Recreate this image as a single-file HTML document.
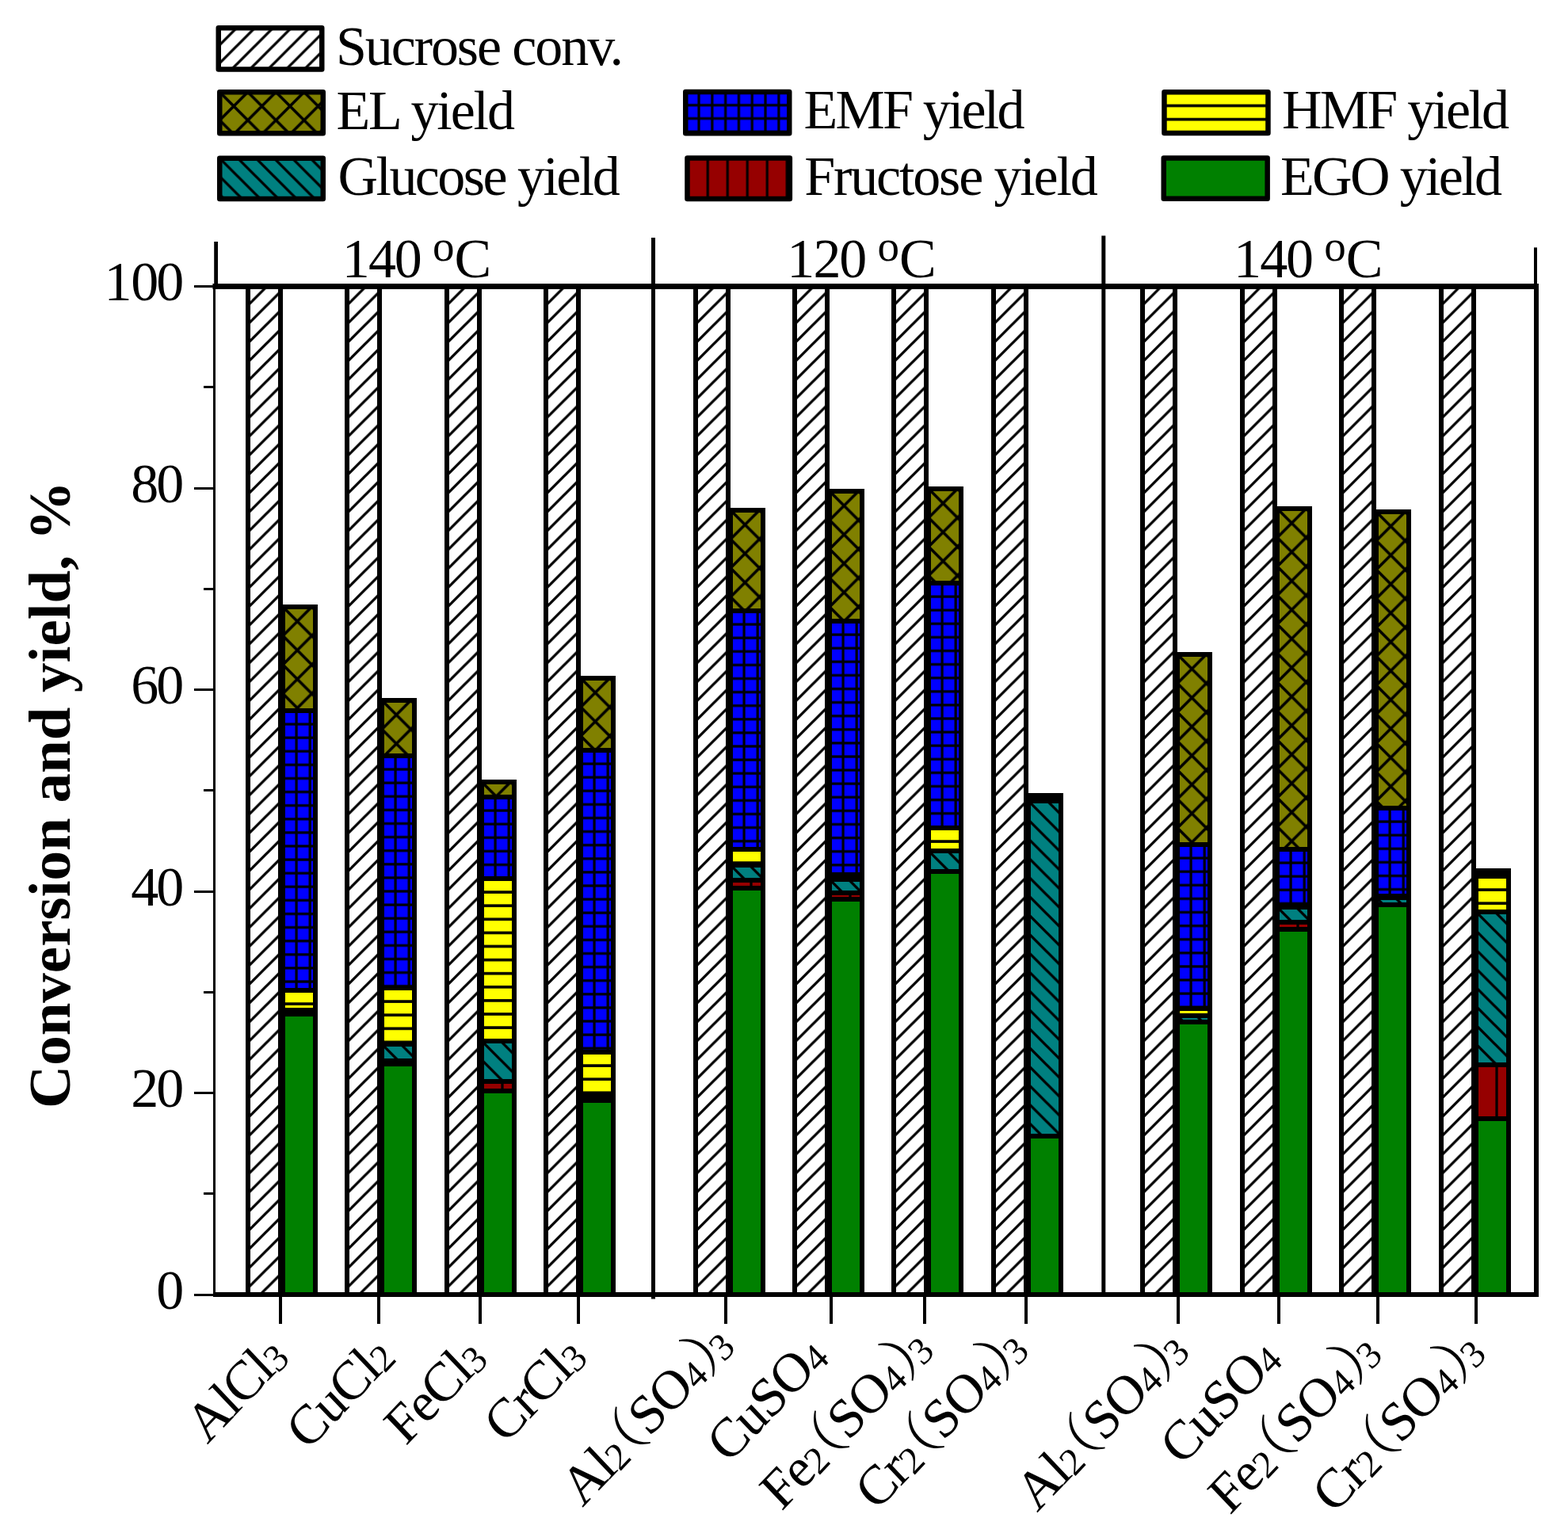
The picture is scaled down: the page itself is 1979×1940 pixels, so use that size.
<!DOCTYPE html>
<html><head><meta charset="utf-8"><title>Conversion and yield</title><style>html,body{margin:0;padding:0;background:#fff;width:1979px;height:1940px;overflow:hidden}svg{display:block}</style></head><body>
<svg width="1979" height="1940" viewBox="0 0 1979 1940"><rect width="1979" height="1940" fill="#fff"/><defs><pattern id="p1" patternUnits="userSpaceOnUse" x="275.75" y="35.25" width="22.95" height="22.95"><rect width="22.95" height="22.95" fill="#ffffff"/><path d="M-2,24.95 L24.95,-2 M-2,2 L2,-2 M20.95,24.95 L24.95,20.95" stroke="#000" stroke-width="3.3" fill="none"/></pattern><pattern id="p2" patternUnits="userSpaceOnUse" x="277.25" y="116.25" width="35.5" height="35.5"><rect width="35.5" height="35.5" fill="#808000"/><path d="M-2,-2 L37.5,37.5 M-2,37.5 L37.5,-2" stroke="#000" stroke-width="3.6" fill="none"/></pattern><pattern id="p3" patternUnits="userSpaceOnUse" x="277.25" y="199.75" width="22.9" height="22.9"><rect width="22.9" height="22.9" fill="#008080"/><path d="M-2,-2 L24.9,24.9 M20.9,-2 L24.9,2 M-2,20.9 L2,24.9" stroke="#000" stroke-width="3.3" fill="none"/></pattern><pattern id="p4" patternUnits="userSpaceOnUse" x="865.25" y="115.95" width="16.8" height="16.8"><rect width="16.8" height="16.8" fill="#0000ff"/><rect x="0" y="0" width="1.6" height="16.8" fill="#000"/><rect x="15.2" y="0" width="1.6" height="16.8" fill="#000"/><rect x="0" y="0" width="16.8" height="1.6" fill="#000"/><rect x="0" y="15.2" width="16.8" height="1.6" fill="#000"/></pattern><pattern id="p5" patternUnits="userSpaceOnUse" x="868.25" y="199.55" width="25" height="25"><rect width="25" height="25" fill="#960000"/><rect x="0" y="0" width="1.6" height="25" fill="#000"/><rect x="23.4" y="0" width="1.6" height="25" fill="#000"/></pattern><pattern id="p6" patternUnits="userSpaceOnUse" x="1469.45" y="116.25" width="17.2" height="17.2"><rect width="17.2" height="17.2" fill="#ffff00"/><rect x="0" y="0" width="17.2" height="1.8" fill="#000"/><rect x="0" y="15.4" width="17.2" height="1.8" fill="#000"/></pattern><pattern id="p7" patternUnits="userSpaceOnUse" x="313" y="361.5" width="23.85" height="23.85"><rect width="23.85" height="23.85" fill="#ffffff"/><path d="M-2,25.85 L25.85,-2 M-2,2 L2,-2 M21.85,25.85 L25.85,21.85" stroke="#000" stroke-width="3.3" fill="none"/></pattern><pattern id="p8" patternUnits="userSpaceOnUse" x="357.8" y="1278" width="25.2" height="25.2"><rect width="25.2" height="25.2" fill="#960000"/><rect x="0" y="0" width="1.6" height="25.2" fill="#000"/><rect x="23.6" y="0" width="1.6" height="25.2" fill="#000"/></pattern><pattern id="p9" patternUnits="userSpaceOnUse" x="357" y="1275" width="23.85" height="23.85"><rect width="23.85" height="23.85" fill="#008080"/><path d="M-2,-2 L25.85,25.85 M21.85,-2 L25.85,2 M-2,21.85 L2,25.85" stroke="#000" stroke-width="3.3" fill="none"/></pattern><pattern id="p10" patternUnits="userSpaceOnUse" x="357" y="1250" width="17.1" height="17.1"><rect width="17.1" height="17.1" fill="#ffff00"/><rect x="0" y="0" width="17.1" height="1.8" fill="#000"/><rect x="0" y="15.3" width="17.1" height="1.8" fill="#000"/></pattern><pattern id="p11" patternUnits="userSpaceOnUse" x="357" y="897" width="17.1" height="17.1"><rect width="17.1" height="17.1" fill="#0000ff"/><rect x="0" y="0" width="1.6" height="17.1" fill="#000"/><rect x="15.5" y="0" width="1.6" height="17.1" fill="#000"/><rect x="0" y="0" width="17.1" height="1.6" fill="#000"/><rect x="0" y="15.5" width="17.1" height="1.6" fill="#000"/></pattern><pattern id="p12" patternUnits="userSpaceOnUse" x="357" y="766" width="36.5" height="36.5"><rect width="36.5" height="36.5" fill="#808000"/><path d="M-2,-2 L38.5,38.5 M-2,38.5 L38.5,-2" stroke="#000" stroke-width="3.6" fill="none"/></pattern><pattern id="p13" patternUnits="userSpaceOnUse" x="438" y="361.5" width="23.85" height="23.85"><rect width="23.85" height="23.85" fill="#ffffff"/><path d="M-2,25.85 L25.85,-2 M-2,2 L2,-2 M21.85,25.85 L25.85,21.85" stroke="#000" stroke-width="3.3" fill="none"/></pattern><pattern id="p14" patternUnits="userSpaceOnUse" x="482.8" y="1339" width="25.2" height="25.2"><rect width="25.2" height="25.2" fill="#960000"/><rect x="0" y="0" width="1.6" height="25.2" fill="#000"/><rect x="23.6" y="0" width="1.6" height="25.2" fill="#000"/></pattern><pattern id="p15" patternUnits="userSpaceOnUse" x="482" y="1318" width="23.85" height="23.85"><rect width="23.85" height="23.85" fill="#008080"/><path d="M-2,-2 L25.85,25.85 M21.85,-2 L25.85,2 M-2,21.85 L2,25.85" stroke="#000" stroke-width="3.3" fill="none"/></pattern><pattern id="p16" patternUnits="userSpaceOnUse" x="482" y="1247" width="17.1" height="17.1"><rect width="17.1" height="17.1" fill="#ffff00"/><rect x="0" y="0" width="17.1" height="1.8" fill="#000"/><rect x="0" y="15.3" width="17.1" height="1.8" fill="#000"/></pattern><pattern id="p17" patternUnits="userSpaceOnUse" x="482" y="954" width="17.1" height="17.1"><rect width="17.1" height="17.1" fill="#0000ff"/><rect x="0" y="0" width="1.6" height="17.1" fill="#000"/><rect x="15.5" y="0" width="1.6" height="17.1" fill="#000"/><rect x="0" y="0" width="17.1" height="1.6" fill="#000"/><rect x="0" y="15.5" width="17.1" height="1.6" fill="#000"/></pattern><pattern id="p18" patternUnits="userSpaceOnUse" x="482" y="884" width="36.5" height="36.5"><rect width="36.5" height="36.5" fill="#808000"/><path d="M-2,-2 L38.5,38.5 M-2,38.5 L38.5,-2" stroke="#000" stroke-width="3.6" fill="none"/></pattern><pattern id="p19" patternUnits="userSpaceOnUse" x="564" y="361.5" width="23.85" height="23.85"><rect width="23.85" height="23.85" fill="#ffffff"/><path d="M-2,25.85 L25.85,-2 M-2,2 L2,-2 M21.85,25.85 L25.85,21.85" stroke="#000" stroke-width="3.3" fill="none"/></pattern><pattern id="p20" patternUnits="userSpaceOnUse" x="608.8" y="1365" width="25.2" height="25.2"><rect width="25.2" height="25.2" fill="#960000"/><rect x="0" y="0" width="1.6" height="25.2" fill="#000"/><rect x="23.6" y="0" width="1.6" height="25.2" fill="#000"/></pattern><pattern id="p21" patternUnits="userSpaceOnUse" x="608" y="1314" width="23.85" height="23.85"><rect width="23.85" height="23.85" fill="#008080"/><path d="M-2,-2 L25.85,25.85 M21.85,-2 L25.85,2 M-2,21.85 L2,25.85" stroke="#000" stroke-width="3.3" fill="none"/></pattern><pattern id="p22" patternUnits="userSpaceOnUse" x="608" y="1109" width="17.1" height="17.1"><rect width="17.1" height="17.1" fill="#ffff00"/><rect x="0" y="0" width="17.1" height="1.8" fill="#000"/><rect x="0" y="15.3" width="17.1" height="1.8" fill="#000"/></pattern><pattern id="p23" patternUnits="userSpaceOnUse" x="608" y="1006" width="17.1" height="17.1"><rect width="17.1" height="17.1" fill="#0000ff"/><rect x="0" y="0" width="1.6" height="17.1" fill="#000"/><rect x="15.5" y="0" width="1.6" height="17.1" fill="#000"/><rect x="0" y="0" width="17.1" height="1.6" fill="#000"/><rect x="0" y="15.5" width="17.1" height="1.6" fill="#000"/></pattern><pattern id="p24" patternUnits="userSpaceOnUse" x="608" y="987" width="36.5" height="36.5"><rect width="36.5" height="36.5" fill="#808000"/><path d="M-2,-2 L38.5,38.5 M-2,38.5 L38.5,-2" stroke="#000" stroke-width="3.6" fill="none"/></pattern><pattern id="p25" patternUnits="userSpaceOnUse" x="689" y="361.5" width="23.85" height="23.85"><rect width="23.85" height="23.85" fill="#ffffff"/><path d="M-2,25.85 L25.85,-2 M-2,2 L2,-2 M21.85,25.85 L25.85,21.85" stroke="#000" stroke-width="3.3" fill="none"/></pattern><pattern id="p26" patternUnits="userSpaceOnUse" x="733.8" y="1387" width="25.2" height="25.2"><rect width="25.2" height="25.2" fill="#960000"/><rect x="0" y="0" width="1.6" height="25.2" fill="#000"/><rect x="23.6" y="0" width="1.6" height="25.2" fill="#000"/></pattern><pattern id="p27" patternUnits="userSpaceOnUse" x="733" y="1383" width="23.85" height="23.85"><rect width="23.85" height="23.85" fill="#008080"/><path d="M-2,-2 L25.85,25.85 M21.85,-2 L25.85,2 M-2,21.85 L2,25.85" stroke="#000" stroke-width="3.3" fill="none"/></pattern><pattern id="p28" patternUnits="userSpaceOnUse" x="733" y="1328" width="17.1" height="17.1"><rect width="17.1" height="17.1" fill="#ffff00"/><rect x="0" y="0" width="17.1" height="1.8" fill="#000"/><rect x="0" y="15.3" width="17.1" height="1.8" fill="#000"/></pattern><pattern id="p29" patternUnits="userSpaceOnUse" x="733" y="947" width="17.1" height="17.1"><rect width="17.1" height="17.1" fill="#0000ff"/><rect x="0" y="0" width="1.6" height="17.1" fill="#000"/><rect x="15.5" y="0" width="1.6" height="17.1" fill="#000"/><rect x="0" y="0" width="17.1" height="1.6" fill="#000"/><rect x="0" y="15.5" width="17.1" height="1.6" fill="#000"/></pattern><pattern id="p30" patternUnits="userSpaceOnUse" x="733" y="856" width="36.5" height="36.5"><rect width="36.5" height="36.5" fill="#808000"/><path d="M-2,-2 L38.5,38.5 M-2,38.5 L38.5,-2" stroke="#000" stroke-width="3.6" fill="none"/></pattern><pattern id="p31" patternUnits="userSpaceOnUse" x="878" y="361.5" width="23.85" height="23.85"><rect width="23.85" height="23.85" fill="#ffffff"/><path d="M-2,25.85 L25.85,-2 M-2,2 L2,-2 M21.85,25.85 L25.85,21.85" stroke="#000" stroke-width="3.3" fill="none"/></pattern><pattern id="p32" patternUnits="userSpaceOnUse" x="922.8" y="1111" width="25.2" height="25.2"><rect width="25.2" height="25.2" fill="#960000"/><rect x="0" y="0" width="1.6" height="25.2" fill="#000"/><rect x="23.6" y="0" width="1.6" height="25.2" fill="#000"/></pattern><pattern id="p33" patternUnits="userSpaceOnUse" x="922" y="1092" width="23.85" height="23.85"><rect width="23.85" height="23.85" fill="#008080"/><path d="M-2,-2 L25.85,25.85 M21.85,-2 L25.85,2 M-2,21.85 L2,25.85" stroke="#000" stroke-width="3.3" fill="none"/></pattern><pattern id="p34" patternUnits="userSpaceOnUse" x="922" y="1072" width="17.1" height="17.1"><rect width="17.1" height="17.1" fill="#ffff00"/><rect x="0" y="0" width="17.1" height="1.8" fill="#000"/><rect x="0" y="15.3" width="17.1" height="1.8" fill="#000"/></pattern><pattern id="p35" patternUnits="userSpaceOnUse" x="922" y="771" width="17.1" height="17.1"><rect width="17.1" height="17.1" fill="#0000ff"/><rect x="0" y="0" width="1.6" height="17.1" fill="#000"/><rect x="15.5" y="0" width="1.6" height="17.1" fill="#000"/><rect x="0" y="0" width="17.1" height="1.6" fill="#000"/><rect x="0" y="15.5" width="17.1" height="1.6" fill="#000"/></pattern><pattern id="p36" patternUnits="userSpaceOnUse" x="922" y="644" width="36.5" height="36.5"><rect width="36.5" height="36.5" fill="#808000"/><path d="M-2,-2 L38.5,38.5 M-2,38.5 L38.5,-2" stroke="#000" stroke-width="3.6" fill="none"/></pattern><pattern id="p37" patternUnits="userSpaceOnUse" x="1003" y="361.5" width="23.85" height="23.85"><rect width="23.85" height="23.85" fill="#ffffff"/><path d="M-2,25.85 L25.85,-2 M-2,2 L2,-2 M21.85,25.85 L25.85,21.85" stroke="#000" stroke-width="3.3" fill="none"/></pattern><pattern id="p38" patternUnits="userSpaceOnUse" x="1047.8" y="1127" width="25.2" height="25.2"><rect width="25.2" height="25.2" fill="#960000"/><rect x="0" y="0" width="1.6" height="25.2" fill="#000"/><rect x="23.6" y="0" width="1.6" height="25.2" fill="#000"/></pattern><pattern id="p39" patternUnits="userSpaceOnUse" x="1047" y="1110" width="23.85" height="23.85"><rect width="23.85" height="23.85" fill="#008080"/><path d="M-2,-2 L25.85,25.85 M21.85,-2 L25.85,2 M-2,21.85 L2,25.85" stroke="#000" stroke-width="3.3" fill="none"/></pattern><pattern id="p40" patternUnits="userSpaceOnUse" x="1047" y="1104" width="17.1" height="17.1"><rect width="17.1" height="17.1" fill="#ffff00"/><rect x="0" y="0" width="17.1" height="1.8" fill="#000"/><rect x="0" y="15.3" width="17.1" height="1.8" fill="#000"/></pattern><pattern id="p41" patternUnits="userSpaceOnUse" x="1047" y="784" width="17.1" height="17.1"><rect width="17.1" height="17.1" fill="#0000ff"/><rect x="0" y="0" width="1.6" height="17.1" fill="#000"/><rect x="15.5" y="0" width="1.6" height="17.1" fill="#000"/><rect x="0" y="0" width="17.1" height="1.6" fill="#000"/><rect x="0" y="15.5" width="17.1" height="1.6" fill="#000"/></pattern><pattern id="p42" patternUnits="userSpaceOnUse" x="1047" y="620" width="36.5" height="36.5"><rect width="36.5" height="36.5" fill="#808000"/><path d="M-2,-2 L38.5,38.5 M-2,38.5 L38.5,-2" stroke="#000" stroke-width="3.6" fill="none"/></pattern><pattern id="p43" patternUnits="userSpaceOnUse" x="1128" y="361.5" width="23.85" height="23.85"><rect width="23.85" height="23.85" fill="#ffffff"/><path d="M-2,25.85 L25.85,-2 M-2,2 L2,-2 M21.85,25.85 L25.85,21.85" stroke="#000" stroke-width="3.3" fill="none"/></pattern><pattern id="p44" patternUnits="userSpaceOnUse" x="1172" y="1074" width="23.85" height="23.85"><rect width="23.85" height="23.85" fill="#008080"/><path d="M-2,-2 L25.85,25.85 M21.85,-2 L25.85,2 M-2,21.85 L2,25.85" stroke="#000" stroke-width="3.3" fill="none"/></pattern><pattern id="p45" patternUnits="userSpaceOnUse" x="1172" y="1045" width="17.1" height="17.1"><rect width="17.1" height="17.1" fill="#ffff00"/><rect x="0" y="0" width="17.1" height="1.8" fill="#000"/><rect x="0" y="15.3" width="17.1" height="1.8" fill="#000"/></pattern><pattern id="p46" patternUnits="userSpaceOnUse" x="1172" y="736" width="17.1" height="17.1"><rect width="17.1" height="17.1" fill="#0000ff"/><rect x="0" y="0" width="1.6" height="17.1" fill="#000"/><rect x="15.5" y="0" width="1.6" height="17.1" fill="#000"/><rect x="0" y="0" width="17.1" height="1.6" fill="#000"/><rect x="0" y="15.5" width="17.1" height="1.6" fill="#000"/></pattern><pattern id="p47" patternUnits="userSpaceOnUse" x="1172" y="617" width="36.5" height="36.5"><rect width="36.5" height="36.5" fill="#808000"/><path d="M-2,-2 L38.5,38.5 M-2,38.5 L38.5,-2" stroke="#000" stroke-width="3.6" fill="none"/></pattern><pattern id="p48" patternUnits="userSpaceOnUse" x="1254" y="361.5" width="23.85" height="23.85"><rect width="23.85" height="23.85" fill="#ffffff"/><path d="M-2,25.85 L25.85,-2 M-2,2 L2,-2 M21.85,25.85 L25.85,21.85" stroke="#000" stroke-width="3.3" fill="none"/></pattern><pattern id="p49" patternUnits="userSpaceOnUse" x="1298" y="1011" width="23.85" height="23.85"><rect width="23.85" height="23.85" fill="#008080"/><path d="M-2,-2 L25.85,25.85 M21.85,-2 L25.85,2 M-2,21.85 L2,25.85" stroke="#000" stroke-width="3.3" fill="none"/></pattern><pattern id="p50" patternUnits="userSpaceOnUse" x="1298" y="1008" width="17.1" height="17.1"><rect width="17.1" height="17.1" fill="#ffff00"/><rect x="0" y="0" width="17.1" height="1.8" fill="#000"/><rect x="0" y="15.3" width="17.1" height="1.8" fill="#000"/></pattern><pattern id="p51" patternUnits="userSpaceOnUse" x="1298" y="1006" width="17.1" height="17.1"><rect width="17.1" height="17.1" fill="#0000ff"/><rect x="0" y="0" width="1.6" height="17.1" fill="#000"/><rect x="15.5" y="0" width="1.6" height="17.1" fill="#000"/><rect x="0" y="0" width="17.1" height="1.6" fill="#000"/><rect x="0" y="15.5" width="17.1" height="1.6" fill="#000"/></pattern><pattern id="p52" patternUnits="userSpaceOnUse" x="1298" y="1004" width="36.5" height="36.5"><rect width="36.5" height="36.5" fill="#808000"/><path d="M-2,-2 L38.5,38.5 M-2,38.5 L38.5,-2" stroke="#000" stroke-width="3.6" fill="none"/></pattern><pattern id="p53" patternUnits="userSpaceOnUse" x="1442" y="361.5" width="23.85" height="23.85"><rect width="23.85" height="23.85" fill="#ffffff"/><path d="M-2,25.85 L25.85,-2 M-2,2 L2,-2 M21.85,25.85 L25.85,21.85" stroke="#000" stroke-width="3.3" fill="none"/></pattern><pattern id="p54" patternUnits="userSpaceOnUse" x="1486" y="1282" width="23.85" height="23.85"><rect width="23.85" height="23.85" fill="#008080"/><path d="M-2,-2 L25.85,25.85 M21.85,-2 L25.85,2 M-2,21.85 L2,25.85" stroke="#000" stroke-width="3.3" fill="none"/></pattern><pattern id="p55" patternUnits="userSpaceOnUse" x="1486" y="1273" width="17.1" height="17.1"><rect width="17.1" height="17.1" fill="#ffff00"/><rect x="0" y="0" width="17.1" height="1.8" fill="#000"/><rect x="0" y="15.3" width="17.1" height="1.8" fill="#000"/></pattern><pattern id="p56" patternUnits="userSpaceOnUse" x="1486" y="1066" width="17.1" height="17.1"><rect width="17.1" height="17.1" fill="#0000ff"/><rect x="0" y="0" width="1.6" height="17.1" fill="#000"/><rect x="15.5" y="0" width="1.6" height="17.1" fill="#000"/><rect x="0" y="0" width="17.1" height="1.6" fill="#000"/><rect x="0" y="15.5" width="17.1" height="1.6" fill="#000"/></pattern><pattern id="p57" patternUnits="userSpaceOnUse" x="1486" y="826" width="36.5" height="36.5"><rect width="36.5" height="36.5" fill="#808000"/><path d="M-2,-2 L38.5,38.5 M-2,38.5 L38.5,-2" stroke="#000" stroke-width="3.6" fill="none"/></pattern><pattern id="p58" patternUnits="userSpaceOnUse" x="1568" y="361.5" width="23.85" height="23.85"><rect width="23.85" height="23.85" fill="#ffffff"/><path d="M-2,25.85 L25.85,-2 M-2,2 L2,-2 M21.85,25.85 L25.85,21.85" stroke="#000" stroke-width="3.3" fill="none"/></pattern><pattern id="p59" patternUnits="userSpaceOnUse" x="1612.8" y="1164" width="25.2" height="25.2"><rect width="25.2" height="25.2" fill="#960000"/><rect x="0" y="0" width="1.6" height="25.2" fill="#000"/><rect x="23.6" y="0" width="1.6" height="25.2" fill="#000"/></pattern><pattern id="p60" patternUnits="userSpaceOnUse" x="1612" y="1145" width="23.85" height="23.85"><rect width="23.85" height="23.85" fill="#008080"/><path d="M-2,-2 L25.85,25.85 M21.85,-2 L25.85,2 M-2,21.85 L2,25.85" stroke="#000" stroke-width="3.3" fill="none"/></pattern><pattern id="p61" patternUnits="userSpaceOnUse" x="1612" y="1143" width="17.1" height="17.1"><rect width="17.1" height="17.1" fill="#ffff00"/><rect x="0" y="0" width="17.1" height="1.8" fill="#000"/><rect x="0" y="15.3" width="17.1" height="1.8" fill="#000"/></pattern><pattern id="p62" patternUnits="userSpaceOnUse" x="1612" y="1072" width="17.1" height="17.1"><rect width="17.1" height="17.1" fill="#0000ff"/><rect x="0" y="0" width="1.6" height="17.1" fill="#000"/><rect x="15.5" y="0" width="1.6" height="17.1" fill="#000"/><rect x="0" y="0" width="17.1" height="1.6" fill="#000"/><rect x="0" y="15.5" width="17.1" height="1.6" fill="#000"/></pattern><pattern id="p63" patternUnits="userSpaceOnUse" x="1612" y="642" width="36.5" height="36.5"><rect width="36.5" height="36.5" fill="#808000"/><path d="M-2,-2 L38.5,38.5 M-2,38.5 L38.5,-2" stroke="#000" stroke-width="3.6" fill="none"/></pattern><pattern id="p64" patternUnits="userSpaceOnUse" x="1693" y="361.5" width="23.85" height="23.85"><rect width="23.85" height="23.85" fill="#ffffff"/><path d="M-2,25.85 L25.85,-2 M-2,2 L2,-2 M21.85,25.85 L25.85,21.85" stroke="#000" stroke-width="3.3" fill="none"/></pattern><pattern id="p65" patternUnits="userSpaceOnUse" x="1737" y="1133" width="23.85" height="23.85"><rect width="23.85" height="23.85" fill="#008080"/><path d="M-2,-2 L25.85,25.85 M21.85,-2 L25.85,2 M-2,21.85 L2,25.85" stroke="#000" stroke-width="3.3" fill="none"/></pattern><pattern id="p66" patternUnits="userSpaceOnUse" x="1737" y="1131" width="17.1" height="17.1"><rect width="17.1" height="17.1" fill="#ffff00"/><rect x="0" y="0" width="17.1" height="1.8" fill="#000"/><rect x="0" y="15.3" width="17.1" height="1.8" fill="#000"/></pattern><pattern id="p67" patternUnits="userSpaceOnUse" x="1737" y="1020" width="17.1" height="17.1"><rect width="17.1" height="17.1" fill="#0000ff"/><rect x="0" y="0" width="1.6" height="17.1" fill="#000"/><rect x="15.5" y="0" width="1.6" height="17.1" fill="#000"/><rect x="0" y="0" width="17.1" height="1.6" fill="#000"/><rect x="0" y="15.5" width="17.1" height="1.6" fill="#000"/></pattern><pattern id="p68" patternUnits="userSpaceOnUse" x="1737" y="646" width="36.5" height="36.5"><rect width="36.5" height="36.5" fill="#808000"/><path d="M-2,-2 L38.5,38.5 M-2,38.5 L38.5,-2" stroke="#000" stroke-width="3.6" fill="none"/></pattern><pattern id="p69" patternUnits="userSpaceOnUse" x="1819" y="361.5" width="23.85" height="23.85"><rect width="23.85" height="23.85" fill="#ffffff"/><path d="M-2,25.85 L25.85,-2 M-2,2 L2,-2 M21.85,25.85 L25.85,21.85" stroke="#000" stroke-width="3.3" fill="none"/></pattern><pattern id="p70" patternUnits="userSpaceOnUse" x="1863.8" y="1344" width="25.2" height="25.2"><rect width="25.2" height="25.2" fill="#960000"/><rect x="0" y="0" width="1.6" height="25.2" fill="#000"/><rect x="23.6" y="0" width="1.6" height="25.2" fill="#000"/></pattern><pattern id="p71" patternUnits="userSpaceOnUse" x="1863" y="1151" width="23.85" height="23.85"><rect width="23.85" height="23.85" fill="#008080"/><path d="M-2,-2 L25.85,25.85 M21.85,-2 L25.85,2 M-2,21.85 L2,25.85" stroke="#000" stroke-width="3.3" fill="none"/></pattern><pattern id="p72" patternUnits="userSpaceOnUse" x="1863" y="1106" width="17.1" height="17.1"><rect width="17.1" height="17.1" fill="#ffff00"/><rect x="0" y="0" width="17.1" height="1.8" fill="#000"/><rect x="0" y="15.3" width="17.1" height="1.8" fill="#000"/></pattern><pattern id="p73" patternUnits="userSpaceOnUse" x="1863" y="1102" width="17.1" height="17.1"><rect width="17.1" height="17.1" fill="#0000ff"/><rect x="0" y="0" width="1.6" height="17.1" fill="#000"/><rect x="15.5" y="0" width="1.6" height="17.1" fill="#000"/><rect x="0" y="0" width="17.1" height="1.6" fill="#000"/><rect x="0" y="15.5" width="17.1" height="1.6" fill="#000"/></pattern><pattern id="p74" patternUnits="userSpaceOnUse" x="1863" y="1099" width="36.5" height="36.5"><rect width="36.5" height="36.5" fill="#808000"/><path d="M-2,-2 L38.5,38.5 M-2,38.5 L38.5,-2" stroke="#000" stroke-width="3.6" fill="none"/></pattern></defs><rect x="275.75" y="35.25" width="130.5" height="52.2" fill="url(#p1)" stroke="#000" stroke-width="6.5" stroke-linejoin="round"/>
<rect x="277.25" y="116.25" width="130.5" height="52" fill="url(#p2)" stroke="#000" stroke-width="6.5" stroke-linejoin="round"/>
<rect x="277.25" y="199.75" width="130.5" height="51.3" fill="url(#p3)" stroke="#000" stroke-width="6.5" stroke-linejoin="round"/>
<rect x="865.25" y="115.95" width="131" height="52.2" fill="url(#p4)" stroke="#000" stroke-width="6.5" stroke-linejoin="round"/>
<rect x="867.45" y="199.55" width="129.4" height="51.5" fill="url(#p5)" stroke="#000" stroke-width="6.5" stroke-linejoin="round"/>
<rect x="1469.45" y="116.25" width="131" height="51.8" fill="url(#p6)" stroke="#000" stroke-width="6.5" stroke-linejoin="round"/>
<rect x="1468.75" y="199.55" width="130.9" height="51.2" fill="#008000" stroke="#000" stroke-width="6.5" stroke-linejoin="round"/>
<rect x="313" y="361.5" width="41" height="1272.5" fill="url(#p7)" stroke="#000" stroke-width="6"/>
<rect x="357" y="1280" width="41" height="354" fill="#008000" stroke="#000" stroke-width="6"/>
<rect x="357" y="1278" width="41" height="2" fill="url(#p8)" stroke="#000" stroke-width="6"/>
<rect x="357" y="1275" width="41" height="3" fill="url(#p9)" stroke="#000" stroke-width="6"/>
<rect x="357" y="1250" width="41" height="25" fill="url(#p10)" stroke="#000" stroke-width="6"/>
<rect x="357" y="897" width="41" height="353" fill="url(#p11)" stroke="#000" stroke-width="6"/>
<rect x="357" y="766" width="41" height="131" fill="url(#p12)" stroke="#000" stroke-width="6"/>
<rect x="438" y="361.5" width="41" height="1272.5" fill="url(#p13)" stroke="#000" stroke-width="6"/>
<rect x="482" y="1343" width="41" height="291" fill="#008000" stroke="#000" stroke-width="6"/>
<rect x="482" y="1339" width="41" height="4" fill="url(#p14)" stroke="#000" stroke-width="6"/>
<rect x="482" y="1318" width="41" height="21" fill="url(#p15)" stroke="#000" stroke-width="6"/>
<rect x="482" y="1247" width="41" height="71" fill="url(#p16)" stroke="#000" stroke-width="6"/>
<rect x="482" y="954" width="41" height="293" fill="url(#p17)" stroke="#000" stroke-width="6"/>
<rect x="482" y="884" width="41" height="70" fill="url(#p18)" stroke="#000" stroke-width="6"/>
<rect x="564" y="361.5" width="41" height="1272.5" fill="url(#p19)" stroke="#000" stroke-width="6"/>
<rect x="608" y="1377" width="41" height="257" fill="#008000" stroke="#000" stroke-width="6"/>
<rect x="608" y="1365" width="41" height="12" fill="url(#p20)" stroke="#000" stroke-width="6"/>
<rect x="608" y="1314" width="41" height="51" fill="url(#p21)" stroke="#000" stroke-width="6"/>
<rect x="608" y="1109" width="41" height="205" fill="url(#p22)" stroke="#000" stroke-width="6"/>
<rect x="608" y="1006" width="41" height="103" fill="url(#p23)" stroke="#000" stroke-width="6"/>
<rect x="608" y="987" width="41" height="19" fill="url(#p24)" stroke="#000" stroke-width="6"/>
<rect x="689" y="361.5" width="41" height="1272.5" fill="url(#p25)" stroke="#000" stroke-width="6"/>
<rect x="733" y="1389" width="41" height="245" fill="#008000" stroke="#000" stroke-width="6"/>
<rect x="733" y="1387" width="41" height="2" fill="url(#p26)" stroke="#000" stroke-width="6"/>
<rect x="733" y="1383" width="41" height="4" fill="url(#p27)" stroke="#000" stroke-width="6"/>
<rect x="733" y="1328" width="41" height="55" fill="url(#p28)" stroke="#000" stroke-width="6"/>
<rect x="733" y="947" width="41" height="381" fill="url(#p29)" stroke="#000" stroke-width="6"/>
<rect x="733" y="856" width="41" height="91" fill="url(#p30)" stroke="#000" stroke-width="6"/>
<rect x="878" y="361.5" width="41" height="1272.5" fill="url(#p31)" stroke="#000" stroke-width="6"/>
<rect x="922" y="1121" width="41" height="513" fill="#008000" stroke="#000" stroke-width="6"/>
<rect x="922" y="1111" width="41" height="10" fill="url(#p32)" stroke="#000" stroke-width="6"/>
<rect x="922" y="1092" width="41" height="19" fill="url(#p33)" stroke="#000" stroke-width="6"/>
<rect x="922" y="1072" width="41" height="20" fill="url(#p34)" stroke="#000" stroke-width="6"/>
<rect x="922" y="771" width="41" height="301" fill="url(#p35)" stroke="#000" stroke-width="6"/>
<rect x="922" y="644" width="41" height="127" fill="url(#p36)" stroke="#000" stroke-width="6"/>
<rect x="1003" y="361.5" width="41" height="1272.5" fill="url(#p37)" stroke="#000" stroke-width="6"/>
<rect x="1047" y="1135" width="41" height="499" fill="#008000" stroke="#000" stroke-width="6"/>
<rect x="1047" y="1127" width="41" height="8" fill="url(#p38)" stroke="#000" stroke-width="6"/>
<rect x="1047" y="1110" width="41" height="17" fill="url(#p39)" stroke="#000" stroke-width="6"/>
<rect x="1047" y="1104" width="41" height="6" fill="url(#p40)" stroke="#000" stroke-width="6"/>
<rect x="1047" y="784" width="41" height="320" fill="url(#p41)" stroke="#000" stroke-width="6"/>
<rect x="1047" y="620" width="41" height="164" fill="url(#p42)" stroke="#000" stroke-width="6"/>
<rect x="1128" y="361.5" width="41" height="1272.5" fill="url(#p43)" stroke="#000" stroke-width="6"/>
<rect x="1172" y="1100" width="41" height="534" fill="#008000" stroke="#000" stroke-width="6"/>
<rect x="1172" y="1074" width="41" height="26" fill="url(#p44)" stroke="#000" stroke-width="6"/>
<rect x="1172" y="1045" width="41" height="29" fill="url(#p45)" stroke="#000" stroke-width="6"/>
<rect x="1172" y="736" width="41" height="309" fill="url(#p46)" stroke="#000" stroke-width="6"/>
<rect x="1172" y="617" width="41" height="119" fill="url(#p47)" stroke="#000" stroke-width="6"/>
<rect x="1254" y="361.5" width="41" height="1272.5" fill="url(#p48)" stroke="#000" stroke-width="6"/>
<rect x="1298" y="1434" width="41" height="200" fill="#008000" stroke="#000" stroke-width="6"/>
<rect x="1298" y="1011" width="41" height="423" fill="url(#p49)" stroke="#000" stroke-width="6"/>
<rect x="1298" y="1008" width="41" height="3" fill="url(#p50)" stroke="#000" stroke-width="6"/>
<rect x="1298" y="1006" width="41" height="2" fill="url(#p51)" stroke="#000" stroke-width="6"/>
<rect x="1298" y="1004" width="41" height="2" fill="url(#p52)" stroke="#000" stroke-width="6"/>
<rect x="1442" y="361.5" width="41" height="1272.5" fill="url(#p53)" stroke="#000" stroke-width="6"/>
<rect x="1486" y="1290" width="41" height="344" fill="#008000" stroke="#000" stroke-width="6"/>
<rect x="1486" y="1282" width="41" height="8" fill="url(#p54)" stroke="#000" stroke-width="6"/>
<rect x="1486" y="1273" width="41" height="9" fill="url(#p55)" stroke="#000" stroke-width="6"/>
<rect x="1486" y="1066" width="41" height="207" fill="url(#p56)" stroke="#000" stroke-width="6"/>
<rect x="1486" y="826" width="41" height="240" fill="url(#p57)" stroke="#000" stroke-width="6"/>
<rect x="1568" y="361.5" width="41" height="1272.5" fill="url(#p58)" stroke="#000" stroke-width="6"/>
<rect x="1612" y="1173" width="41" height="461" fill="#008000" stroke="#000" stroke-width="6"/>
<rect x="1612" y="1164" width="41" height="9" fill="url(#p59)" stroke="#000" stroke-width="6"/>
<rect x="1612" y="1145" width="41" height="19" fill="url(#p60)" stroke="#000" stroke-width="6"/>
<rect x="1612" y="1143" width="41" height="2" fill="url(#p61)" stroke="#000" stroke-width="6"/>
<rect x="1612" y="1072" width="41" height="71" fill="url(#p62)" stroke="#000" stroke-width="6"/>
<rect x="1612" y="642" width="41" height="430" fill="url(#p63)" stroke="#000" stroke-width="6"/>
<rect x="1693" y="361.5" width="41" height="1272.5" fill="url(#p64)" stroke="#000" stroke-width="6"/>
<rect x="1737" y="1142" width="41" height="492" fill="#008000" stroke="#000" stroke-width="6"/>
<rect x="1737" y="1133" width="41" height="9" fill="url(#p65)" stroke="#000" stroke-width="6"/>
<rect x="1737" y="1131" width="41" height="2" fill="url(#p66)" stroke="#000" stroke-width="6"/>
<rect x="1737" y="1020" width="41" height="111" fill="url(#p67)" stroke="#000" stroke-width="6"/>
<rect x="1737" y="646" width="41" height="374" fill="url(#p68)" stroke="#000" stroke-width="6"/>
<rect x="1819" y="361.5" width="41" height="1272.5" fill="url(#p69)" stroke="#000" stroke-width="6"/>
<rect x="1863" y="1412" width="41" height="222" fill="#008000" stroke="#000" stroke-width="6"/>
<rect x="1863" y="1344" width="41" height="68" fill="url(#p70)" stroke="#000" stroke-width="6"/>
<rect x="1863" y="1151" width="41" height="193" fill="url(#p71)" stroke="#000" stroke-width="6"/>
<rect x="1863" y="1106" width="41" height="45" fill="url(#p72)" stroke="#000" stroke-width="6"/>
<rect x="1863" y="1102" width="41" height="4" fill="url(#p73)" stroke="#000" stroke-width="6"/>
<rect x="1863" y="1099" width="41" height="3" fill="url(#p74)" stroke="#000" stroke-width="6"/>
<line x1="268.4" y1="361.5" x2="1941" y2="361.5" stroke="#000" stroke-width="7" stroke-linecap="butt"/>
<line x1="269" y1="1634" x2="1942" y2="1634" stroke="#000" stroke-width="6" stroke-linecap="butt"/>
<line x1="270.5" y1="358" x2="270.5" y2="1637" stroke="#000" stroke-width="3" stroke-linecap="butt"/>
<line x1="1939" y1="358" x2="1939" y2="1637" stroke="#000" stroke-width="6" stroke-linecap="butt"/>
<line x1="272.6" y1="305" x2="272.6" y2="360" stroke="#000" stroke-width="4.8" stroke-linecap="butt"/>
<line x1="1938" y1="312.4" x2="1938" y2="360" stroke="#000" stroke-width="4" stroke-linecap="butt"/>
<line x1="824.5" y1="300" x2="824.5" y2="1639.5" stroke="#000" stroke-width="5" stroke-linecap="butt"/>
<line x1="1392.8" y1="297.5" x2="1392.8" y2="1636" stroke="#000" stroke-width="5" stroke-linecap="butt"/>
<line x1="245" y1="1634.5" x2="270" y2="1634.5" stroke="#000" stroke-width="3" stroke-linecap="butt"/>
<line x1="257" y1="1506.5" x2="270" y2="1506.5" stroke="#000" stroke-width="3" stroke-linecap="butt"/>
<line x1="245" y1="1379.5" x2="270" y2="1379.5" stroke="#000" stroke-width="3" stroke-linecap="butt"/>
<line x1="257" y1="1252.5" x2="270" y2="1252.5" stroke="#000" stroke-width="3" stroke-linecap="butt"/>
<line x1="245" y1="1125.5" x2="270" y2="1125.5" stroke="#000" stroke-width="3" stroke-linecap="butt"/>
<line x1="257" y1="997.5" x2="270" y2="997.5" stroke="#000" stroke-width="3" stroke-linecap="butt"/>
<line x1="245" y1="870.5" x2="270" y2="870.5" stroke="#000" stroke-width="3" stroke-linecap="butt"/>
<line x1="257" y1="743.5" x2="270" y2="743.5" stroke="#000" stroke-width="3" stroke-linecap="butt"/>
<line x1="245" y1="616.5" x2="270" y2="616.5" stroke="#000" stroke-width="3" stroke-linecap="butt"/>
<line x1="257" y1="488.5" x2="270" y2="488.5" stroke="#000" stroke-width="3" stroke-linecap="butt"/>
<line x1="245" y1="361.5" x2="270" y2="361.5" stroke="#000" stroke-width="3" stroke-linecap="butt"/>
<line x1="354" y1="1636" x2="354" y2="1671" stroke="#000" stroke-width="4" stroke-linecap="butt"/>
<line x1="478" y1="1636" x2="478" y2="1671" stroke="#000" stroke-width="4" stroke-linecap="butt"/>
<line x1="606" y1="1636" x2="606" y2="1671" stroke="#000" stroke-width="4" stroke-linecap="butt"/>
<line x1="730" y1="1636" x2="730" y2="1671" stroke="#000" stroke-width="4" stroke-linecap="butt"/>
<line x1="916" y1="1636" x2="916" y2="1671" stroke="#000" stroke-width="4" stroke-linecap="butt"/>
<line x1="1049" y1="1636" x2="1049" y2="1671" stroke="#000" stroke-width="4" stroke-linecap="butt"/>
<line x1="1167" y1="1636" x2="1167" y2="1671" stroke="#000" stroke-width="4" stroke-linecap="butt"/>
<line x1="1295" y1="1636" x2="1295" y2="1671" stroke="#000" stroke-width="4" stroke-linecap="butt"/>
<line x1="1487" y1="1636" x2="1487" y2="1671" stroke="#000" stroke-width="4" stroke-linecap="butt"/>
<line x1="1614" y1="1636" x2="1614" y2="1671" stroke="#000" stroke-width="4" stroke-linecap="butt"/>
<line x1="1739" y1="1636" x2="1739" y2="1671" stroke="#000" stroke-width="4" stroke-linecap="butt"/>
<line x1="1863" y1="1636" x2="1863" y2="1671" stroke="#000" stroke-width="4" stroke-linecap="butt"/>
<text x="197.3" y="1651.5" font-size="70" font-family="'Liberation Serif','Times New Roman',serif">0</text>
<text x="165.2 197.3" y="1397" font-size="70" font-family="'Liberation Serif','Times New Roman',serif">20</text>
<text x="165.2 197.3" y="1142.5" font-size="70" font-family="'Liberation Serif','Times New Roman',serif">40</text>
<text x="165.2 197.3" y="888" font-size="70" font-family="'Liberation Serif','Times New Roman',serif">60</text>
<text x="165.2 197.3" y="633.5" font-size="70" font-family="'Liberation Serif','Times New Roman',serif">80</text>
<text x="131.6 165.2 197.3" y="379" font-size="70" font-family="'Liberation Serif','Times New Roman',serif">100</text>
<text x="424" y="82.3" font-size="70" textLength="363" lengthAdjust="spacing" font-family="'Liberation Serif','Times New Roman',serif">Sucrose conv.</text>
<text x="424.5" y="162.6" font-size="70" textLength="225.4" lengthAdjust="spacing" font-family="'Liberation Serif','Times New Roman',serif">EL yield</text>
<text x="426.5" y="246" font-size="70" textLength="356.2" lengthAdjust="spacing" font-family="'Liberation Serif','Times New Roman',serif">Glucose yield</text>
<text x="1014.5" y="162.3" font-size="70" textLength="279" lengthAdjust="spacing" font-family="'Liberation Serif','Times New Roman',serif">EMF yield</text>
<text x="1015.3" y="245.8" font-size="70" textLength="370.5" lengthAdjust="spacing" font-family="'Liberation Serif','Times New Roman',serif">Fructose yield</text>
<text x="1618" y="162.4" font-size="70" textLength="287" lengthAdjust="spacing" font-family="'Liberation Serif','Times New Roman',serif">HMF yield</text>
<text x="1616" y="245.7" font-size="70" textLength="280" lengthAdjust="spacing" font-family="'Liberation Serif','Times New Roman',serif">EGO yield</text>
<text y="350" font-size="70" font-family="'Liberation Serif','Times New Roman',serif"><tspan x="431.7 465 497.7">140</tspan><tspan x="545.9" y="328.6" font-size="55">o</tspan><tspan x="573.5" y="350">C</tspan></text>
<text y="350" font-size="70" font-family="'Liberation Serif','Times New Roman',serif"><tspan x="993.3 1026.6 1059.3">120</tspan><tspan x="1107.5" y="328.6" font-size="55">o</tspan><tspan x="1135.1" y="350">C</tspan></text>
<text y="350" font-size="70" font-family="'Liberation Serif','Times New Roman',serif"><tspan x="1557 1590.3 1623">140</tspan><tspan x="1671.2" y="328.6" font-size="55">o</tspan><tspan x="1698.8" y="350">C</tspan></text>
<text transform="translate(88,1399) rotate(-90)" font-size="75" font-weight="bold" font-family="'Liberation Serif','Times New Roman',serif">Conversion and yield, %</text>
<text transform="translate(364.5,1715.5) scale(0.95,1) rotate(-45)" text-anchor="end" letter-spacing="-1.5" font-family="'Liberation Serif','Noto Serif CJK SC',serif"><tspan font-size="70" dy="0">AlCl</tspan><tspan font-size="49" dy="3">3</tspan></text>
<text transform="translate(499,1715.5) scale(0.95,1) rotate(-45)" text-anchor="end" letter-spacing="-1.5" font-family="'Liberation Serif','Noto Serif CJK SC',serif"><tspan font-size="70" dy="0">CuCl</tspan><tspan font-size="49" dy="3">2</tspan></text>
<text transform="translate(615,1717.5) scale(0.95,1) rotate(-45)" text-anchor="end" letter-spacing="-1.5" font-family="'Liberation Serif','Noto Serif CJK SC',serif"><tspan font-size="70" dy="0">FeCl</tspan><tspan font-size="49" dy="3">3</tspan></text>
<text transform="translate(740.7,1715.5) scale(0.95,1) rotate(-45)" text-anchor="end" letter-spacing="-1.5" font-family="'Liberation Serif','Noto Serif CJK SC',serif"><tspan font-size="70" dy="0">CrCl</tspan><tspan font-size="49" dy="3">3</tspan></text>
<text transform="translate(927,1701.5) scale(0.95,1) rotate(-45)" text-anchor="end" letter-spacing="-1.5" font-family="'Liberation Serif','Noto Serif CJK SC',serif"><tspan font-size="70" dy="0">Al</tspan><tspan font-size="49" dy="3">2</tspan><tspan font-size="70" dy="-3" dx="2" style="font-family:'Noto Serif CJK SC',serif;font-feature-settings:'halt'">（</tspan><tspan font-size="70" dy="0">SO</tspan><tspan font-size="49" dy="3">4</tspan><tspan font-size="70" dy="-3" style="font-family:'Noto Serif CJK SC',serif;font-feature-settings:'halt'">）</tspan><tspan font-size="49" dy="3" dx="-6">3</tspan></text>
<text transform="translate(1045.7,1715.5) scale(0.95,1) rotate(-45)" text-anchor="end" letter-spacing="-1.5" font-family="'Liberation Serif','Noto Serif CJK SC',serif"><tspan font-size="70" dy="0">CuSO</tspan><tspan font-size="49" dy="3">4</tspan></text>
<text transform="translate(1178.3,1706.5) scale(0.95,1) rotate(-45)" text-anchor="end" letter-spacing="-1.5" font-family="'Liberation Serif','Noto Serif CJK SC',serif"><tspan font-size="70" dy="0">Fe</tspan><tspan font-size="49" dy="3">2</tspan><tspan font-size="70" dy="-3" dx="2" style="font-family:'Noto Serif CJK SC',serif;font-feature-settings:'halt'">（</tspan><tspan font-size="70" dy="0">SO</tspan><tspan font-size="49" dy="3">4</tspan><tspan font-size="70" dy="-3" style="font-family:'Noto Serif CJK SC',serif;font-feature-settings:'halt'">）</tspan><tspan font-size="49" dy="3" dx="-6">3</tspan></text>
<text transform="translate(1298,1706.5) scale(0.95,1) rotate(-45)" text-anchor="end" letter-spacing="-1.5" font-family="'Liberation Serif','Noto Serif CJK SC',serif"><tspan font-size="70" dy="0">Cr</tspan><tspan font-size="49" dy="3">2</tspan><tspan font-size="70" dy="-3" dx="2" style="font-family:'Noto Serif CJK SC',serif;font-feature-settings:'halt'">（</tspan><tspan font-size="70" dy="0">SO</tspan><tspan font-size="49" dy="3">4</tspan><tspan font-size="70" dy="-3" style="font-family:'Noto Serif CJK SC',serif;font-feature-settings:'halt'">）</tspan><tspan font-size="49" dy="3" dx="-6">3</tspan></text>
<text transform="translate(1500.8,1708) scale(0.95,1) rotate(-45)" text-anchor="end" letter-spacing="-1.5" font-family="'Liberation Serif','Noto Serif CJK SC',serif"><tspan font-size="70" dy="0">Al</tspan><tspan font-size="49" dy="3">2</tspan><tspan font-size="70" dy="-3" dx="2" style="font-family:'Noto Serif CJK SC',serif;font-feature-settings:'halt'">（</tspan><tspan font-size="70" dy="0">SO</tspan><tspan font-size="49" dy="3">4</tspan><tspan font-size="70" dy="-3" style="font-family:'Noto Serif CJK SC',serif;font-feature-settings:'halt'">）</tspan><tspan font-size="49" dy="3" dx="-6">3</tspan></text>
<text transform="translate(1617.6,1718.5) scale(0.95,1) rotate(-45)" text-anchor="end" letter-spacing="-1.5" font-family="'Liberation Serif','Noto Serif CJK SC',serif"><tspan font-size="70" dy="0">CuSO</tspan><tspan font-size="49" dy="3">4</tspan></text>
<text transform="translate(1744,1711.5) scale(0.95,1) rotate(-45)" text-anchor="end" letter-spacing="-1.5" font-family="'Liberation Serif','Noto Serif CJK SC',serif"><tspan font-size="70" dy="0">Fe</tspan><tspan font-size="49" dy="3">2</tspan><tspan font-size="70" dy="-3" dx="2" style="font-family:'Noto Serif CJK SC',serif;font-feature-settings:'halt'">（</tspan><tspan font-size="70" dy="0">SO</tspan><tspan font-size="49" dy="3">4</tspan><tspan font-size="70" dy="-3" style="font-family:'Noto Serif CJK SC',serif;font-feature-settings:'halt'">）</tspan><tspan font-size="49" dy="3" dx="-6">3</tspan></text>
<text transform="translate(1874.9,1710.5) scale(0.95,1) rotate(-45)" text-anchor="end" letter-spacing="-1.5" font-family="'Liberation Serif','Noto Serif CJK SC',serif"><tspan font-size="70" dy="0">Cr</tspan><tspan font-size="49" dy="3">2</tspan><tspan font-size="70" dy="-3" dx="2" style="font-family:'Noto Serif CJK SC',serif;font-feature-settings:'halt'">（</tspan><tspan font-size="70" dy="0">SO</tspan><tspan font-size="49" dy="3">4</tspan><tspan font-size="70" dy="-3" style="font-family:'Noto Serif CJK SC',serif;font-feature-settings:'halt'">）</tspan><tspan font-size="49" dy="3" dx="-6">3</tspan></text></svg>
</body></html>
